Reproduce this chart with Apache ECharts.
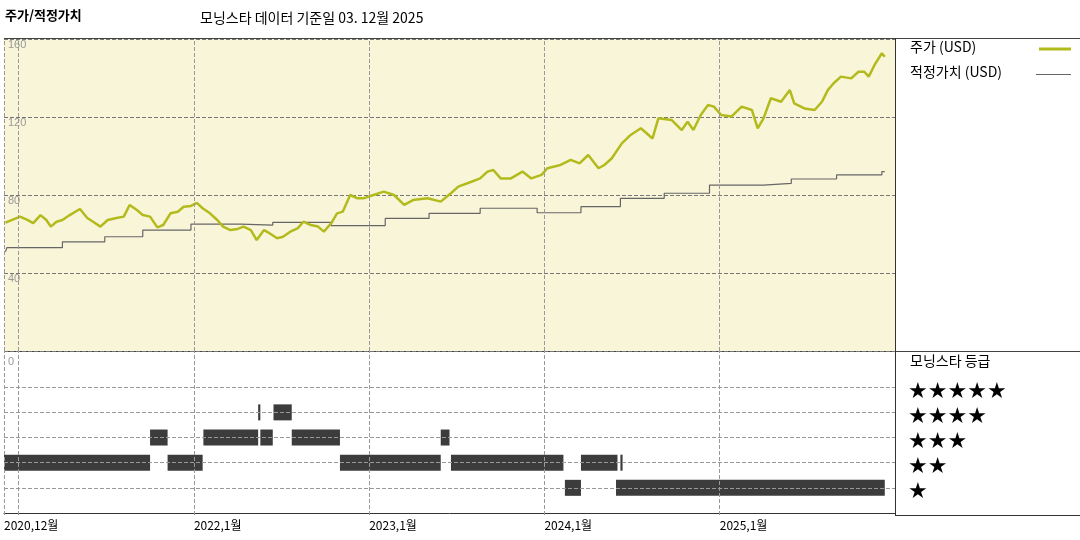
<!DOCTYPE html>
<html><head><meta charset="utf-8">
<script src="https://cdn.jsdelivr.net/npm/echarts@6/dist/echarts.min.js"></script>
<style>html,body{margin:0;padding:0;background:#fff}#c{width:1080px;height:540px}</style>
</head><body><div id="c"></div>
<script>
// x values are months since 2020-12-01
const priceMonths = [0.1,1.1,1.6,2.0,2.5,2.9,3.2,3.6,4.0,4.5,5.2,5.7,6.1,6.6,7.1,7.7,8.2,8.6,9.1,9.5,10.0,10.5,10.9,11.4,11.9,12.3,12.8,13.2,13.6,14.1,14.6,15.0,15.5,16.0,16.4,16.9,17.3,17.8,18.2,18.7,19.1,19.6,20.1,20.5,21.0,21.5,21.9,22.4,22.8,23.2,23.7,24.2,24.6,25.3,26.0,26.7,27.4,28.0,29.0,29.9,30.6,31.1,32.0,32.6,33.1,33.5,34.0,34.7,35.5,36.1,36.8,37.2,38.1,38.8,39.4,40.0,40.7,41.1,41.6,42.3,42.9,43.6,44.4,44.8,45.7,46.4,46.8,47.2,47.7,48.2,48.6,49.1,49.8,50.5,51.2,51.6,52.0,52.5,53.2,53.8,54.1,54.8,55.5,56.0,56.4,56.8,57.3,58.0,58.5,58.9,59.2,59.6,60.1,60.3];
const priceValues = [65.8,68.9,67.2,65.6,69.7,67.2,63.8,66.3,67.2,69.7,72.8,68.2,66.3,63.8,67.2,68.2,68.9,74.9,72.3,69.7,68.9,63.4,64.6,70.6,71.4,74.0,74.4,76.0,73.2,70.6,67.2,63.8,62.0,62.6,63.8,62.0,56.9,62.0,60.3,57.8,58.6,61.2,62.9,66.3,64.6,63.8,61.2,65.5,70.6,71.5,80.0,78.3,78.3,80.0,81.7,80.0,74.9,77.4,78.3,76.6,80.9,84.3,86.8,88.5,92.0,92.8,88.5,88.5,92.0,88.5,90.3,93.7,95.4,98.0,96.2,100.5,93.7,95.4,98.7,106.5,110.8,114.2,109.0,119.3,118.5,113.3,117.6,113.3,121.0,126.2,125.3,121.0,120.2,125.3,123.6,114.2,119.3,129.6,127.8,133.8,127.0,124.4,123.6,127.8,133.8,137.3,140.7,139.8,143.2,143.2,140.7,146.7,152.7,150.9];
const fairMonths = [0.1,0.2,4.0,6.9,9.5,12.8,16.2,18.4,22.4,26.1,29.1,32.6,36.5,39.5,42.2,45.2,48.3,52.0,53.9,57.0,60.1,60.3];
const fairValues = [50.9,53.0,56.0,58.6,62.0,65.1,64.6,66.0,64.3,68.0,70.6,73.2,70.9,74.0,78.3,80.9,85.1,86.0,88.2,90.3,92.0,92.0];
// rating segments: start month, end month, stars
const ratingStart = [0,11.2,23.0,30.6,39.5,42.2,10.0,13.65,17.55,19.7,29.9,17.4,18.45,38.4,41.9];
const ratingEnd   = [10.0,13.6,29.9,38.3,42.0,42.35,11.2,17.4,18.4,23.0,30.5,17.55,19.7,39.5,60.3];
const ratingStars = [2,2,2,2,2,2,3,3,3,3,3,4,4,1,1];
const xTickMonths = [0,1,13,25,37,49];
const xTickLabels = ['2020,12월','2021,1월','2022,1월','2023,1월','2024,1월','2025,1월'];
const yTicks = [40,80,120,160];
const starLabels = ['★★★★★','★★★★','★★★','★★','★'];

const chart = echarts.init(document.getElementById('c'));
const vLines = {symbol:'none',silent:true,label:{show:false},lineStyle:{color:'#999',type:'dashed',width:1},data:xTickMonths.map(m=>({xAxis:m}))};
const ratingData = ratingStart.map((s,i)=>[s,ratingEnd[i],ratingStars[i]]);
chart.setOption({
  animation:false,
  grid:[
    {left:4,right:185,top:39,height:312,show:true,backgroundColor:'#f9f5d9',borderWidth:0},
    {left:4,right:185,top:351,height:164,show:false}
  ],
  xAxis:[
    {gridIndex:0,type:'value',min:0,max:61,axisLine:{show:false},axisTick:{show:false},axisLabel:{show:false},splitLine:{show:false}},
    {gridIndex:1,type:'value',min:0,max:61,interval:1,axisLine:{show:true,lineStyle:{color:'#333'}},axisTick:{show:false},splitLine:{show:false},
     axisLabel:{showMinLabel:true,hideOverlap:false,align:'left',margin:4,color:'#000',fontSize:12,fontFamily:'Noto Sans CJK KR',
       formatter:v=>{const i=xTickMonths.indexOf(v);return i>=0?xTickLabels[i]:'';}}}
  ],
  yAxis:[
    {gridIndex:0,type:'value',min:0,max:160,interval:40,axisLine:{show:false},axisTick:{show:false},
     axisLabel:{inside:true,verticalAlign:'top',margin:4,color:'#999',fontSize:11,formatter:v=>yTicks.includes(v)?String(v):''},
     splitLine:{show:true,lineStyle:{color:'#777',type:'dashed'}}},
    {gridIndex:1,type:'value',min:-0.08,max:6.44,axisLine:{show:false},axisTick:{show:false},axisLabel:{show:false},splitLine:{show:false}}
  ],
  series:[
    {type:'line',xAxisIndex:0,yAxisIndex:0,data:fairMonths.map((m,i)=>[m,fairValues[i]]),step:'end',symbol:'none',lineStyle:{color:'#666',width:1.2},z:3,markLine:vLines},
    {type:'line',xAxisIndex:0,yAxisIndex:0,data:priceMonths.map((m,i)=>[m,priceValues[i]]),symbol:'none',lineStyle:{color:'#b3bb1c',width:2.5},z:4},
    {type:'custom',xAxisIndex:1,yAxisIndex:1,data:ratingData,z:4,
     renderItem:(params,api)=>{
       const p1=api.coord([api.value(0),api.value(2)]);const p2=api.coord([api.value(1),api.value(2)]);
       return {type:'rect',shape:{x:p1[0],y:p1[1]-8,width:Math.max(1.5,p2[0]-p1[0]),height:16},style:{fill:'#3c3c3c'}};
     },
     markLine:{symbol:'none',silent:true,label:{show:false},lineStyle:{color:'#999',type:'dashed',width:1},
       data:xTickMonths.map(m=>({xAxis:m})).concat([1,2,3,4,5].map(v=>({yAxis:v})))}}
  ],
  graphic:[
    {type:'text',left:5,top:9,style:{text:'주가/적정가치',font:'bold 13px "Noto Sans CJK KR"',fill:'#000'}},
    {type:'text',left:200,top:11,style:{text:'모닝스타 데이터 기준일 03. 12월 2025',font:'14px "Noto Sans CJK KR"',fill:'#000'}},
    {type:'line',shape:{x1:4,y1:38.5,x2:1080,y2:38.5},style:{stroke:'#444',lineWidth:1}},
    {type:'line',shape:{x1:4,y1:351.5,x2:1080,y2:351.5},style:{stroke:'#444',lineWidth:1}},
    {type:'line',shape:{x1:895.5,y1:38,x2:895.5,y2:515},style:{stroke:'#333',lineWidth:1}},
    {type:'line',shape:{x1:895,y1:515.5,x2:1080,y2:515.5},style:{stroke:'#333',lineWidth:1}},
    {type:'text',left:8,top:356,style:{text:'0',font:'11px sans-serif',fill:'#999'}},
    {type:'text',left:910,top:40,style:{text:'주가 (USD)',font:'14px "Noto Sans CJK KR"',fill:'#000'}},
    {type:'line',shape:{x1:1039,y1:49,x2:1071,y2:49},style:{stroke:'#b3bb1c',lineWidth:3}},
    {type:'text',left:910,top:65,style:{text:'적정가치 (USD)',font:'14px "Noto Sans CJK KR"',fill:'#000'}},
    {type:'line',shape:{x1:1036,y1:74.5,x2:1071,y2:74.5},style:{stroke:'#666',lineWidth:1}},
    {type:'text',left:910,top:354,style:{text:'모닝스타 등급',font:'14px "Noto Sans CJK KR"',fill:'#000'}}
  ].concat(starLabels.map((s,i)=>({type:'text',left:908,top:381+i*25,style:{text:s,font:'22px "DejaVu Sans"',fill:'#000'}})))
});
</script></body></html>
